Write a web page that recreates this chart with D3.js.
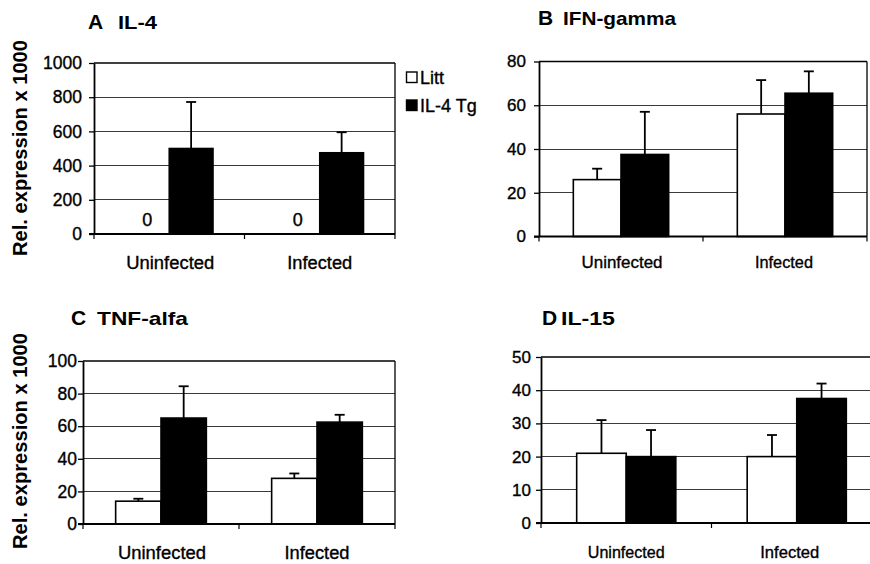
<!DOCTYPE html>
<html><head><meta charset="utf-8">
<script src="https://cdn.jsdelivr.net/npm/d3@7"></script>
<style>
body{margin:0;background:#fff}
svg{display:block}
text{font-family:"Liberation Sans",Arial,Helvetica,sans-serif;fill:#000}
text.reg{stroke:#000;stroke-width:0.35px}
</style>
</head><body>
<svg id="chart" width="870" height="564"></svg>
<script>
// ---------------- data ----------------
const categories = ["Uninfected", "Infected"];
const seriesNames = ["Litt", "IL-4 Tg"];

const il4Litt = [0, 0],     il4LittErr = [0, 0];
const il4Tg = [500, 475],   il4TgErr = [272, 120];

const ifnLitt = [26, 56],   ifnLittErr = [5, 15.5];
const ifnTg = [37.5, 65.5], ifnTgErr = [19.5, 10];

const tnfLitt = [14, 28],   tnfLittErr = [1.5, 3];
const tnfTg = [65, 62.5],   tnfTgErr = [19.5, 4.5];

const il15Litt = [21, 20],  il15LittErr = [10, 6.5];
const il15Tg = [20, 37.5],  il15TgErr = [8, 4.5];

const il4Ticks = [0, 200, 400, 600, 800, 1000];
const ifnTicks = [0, 20, 40, 60, 80];
const tnfTicks = [0, 20, 40, 60, 80, 100];
const il15Ticks = [0, 10, 20, 30, 40, 50];

const panelLetters = ["A", "B", "C", "D"];
const panelNames = ["IL-4", "IFN-gamma", "TNF-alfa", "IL-15"];
const yAxisLabel = "Rel. expression x 1000";
const zeroLabel = "0";

// ---------------- layout ----------------
const panels = [
  {letter: panelLetters[0], name: panelNames[0], litt: il4Litt, littErr: il4LittErr, tg: il4Tg, tgErr: il4TgErr, ticks: il4Ticks,
   x0: 94, x1: 395, yTop: 63, yBot: 234, tickFont: 17.5, tickPad: 7, catFont: 18, catY: 269, catW: [88, 65], catDx: [1, 0],
   titleX: 88, nameX: 118, titleY: 29, nameW: 39, yLabel: true, yLabelCY: 148, rightBorder: true, zeroLabels: true, legend: true},
  {letter: panelLetters[1], name: panelNames[1], litt: ifnLitt, littErr: ifnLittErr, tg: ifnTg, tgErr: ifnTgErr, ticks: ifnTicks,
   x0: 539, x1: 867, yTop: 61.5, yBot: 236.5, tickFont: 17, tickPad: 8, catFont: 17, catY: 268, catW: [81, 58], catDx: [1, -1],
   titleX: 538, nameX: 563, titleY: 25, nameW: 113, yLabel: false, rightBorder: true},
  {letter: panelLetters[2], name: panelNames[2], litt: tnfLitt, littErr: tnfLittErr, tg: tnfTg, tgErr: tnfTgErr, ticks: tnfTicks,
   x0: 83, x1: 395, yTop: 361, yBot: 524, tickFont: 17.5, tickPad: 1, catFont: 18, catY: 559, catW: [88, 65], catDx: [1, 0],
   titleX: 71, nameX: 97, titleY: 325, nameW: 91, yLabel: true, yLabelCY: 441, rightBorder: true},
  {letter: panelLetters[3], name: panelNames[3], litt: il15Litt, littErr: il15LittErr, tg: il15Tg, tgErr: il15TgErr, ticks: il15Ticks,
   x0: 541, x1: 882, yTop: 357, yBot: 523, tickFont: 17, tickPad: 5, catFont: 17, catY: 558, catW: [77, 59], catDx: [0, -7],
   titleX: 542, nameX: 561, titleY: 325, nameW: 54, yLabel: false, rightBorder: false}
];

const svg = d3.select("#chart");

panels.forEach(p => {
  const g = svg.append("g");
  const yMax = p.ticks[p.ticks.length - 1];
  const y = d3.scaleLinear().domain([0, yMax]).range([p.yBot, p.yTop]);
  const xCat = d3.scaleBand().domain(categories).range([p.x0, p.x1]).paddingInner(0).paddingOuter(0);
  const xSer = d3.scaleBand().domain(seriesNames).range([0, xCat.bandwidth()]).paddingInner(0).paddingOuter(0.72);

  const rows = [];
  categories.forEach((c, i) => {
    rows.push({cat: c, ser: seriesNames[0], v: p.litt[i], e: p.littErr[i]});
    rows.push({cat: c, ser: seriesNames[1], v: p.tg[i], e: p.tgErr[i]});
  });

  // gridlines
  g.append("g").selectAll("line").data(p.ticks.filter(t => t > 0 && t < yMax)).join("line")
    .attr("x1", p.x0).attr("x2", p.x1).attr("y1", d => y(d)).attr("y2", d => y(d))
    .attr("stroke", "#3a3a3a").attr("stroke-width", 1).attr("shape-rendering", "crispEdges");

  // bars
  g.append("g").selectAll("rect").data(rows).join("rect")
    .attr("x", d => xCat(d.cat) + xSer(d.ser))
    .attr("width", xSer.bandwidth())
    .attr("y", d => y(d.v))
    .attr("height", d => y(0) - y(d.v))
    .attr("fill", d => d.ser === seriesNames[0] ? "#fff" : "#000")
    .attr("stroke", "#000").attr("stroke-width", 1.6);

  // error bars (upper only)
  const eb = g.append("g").attr("stroke", "#000").attr("stroke-width", 1.8);
  rows.filter(d => d.e > 0).forEach(d => {
    const cx = xCat(d.cat) + xSer(d.ser) + xSer.bandwidth() / 2;
    eb.append("line").attr("x1", cx).attr("x2", cx).attr("y1", y(d.v)).attr("y2", y(d.v + d.e));
    eb.append("line").attr("x1", cx - 5).attr("x2", cx + 5).attr("y1", y(d.v + d.e)).attr("y2", y(d.v + d.e));
  });

  // zero value labels
  if (p.zeroLabels) {
    g.append("g").selectAll("text").data(rows.filter(d => d.ser === seriesNames[0])).join("text")
      .attr("class", "reg")
      .attr("x", d => xCat(d.cat) + xSer(d.ser) + xSer.bandwidth() / 2)
      .attr("y", y(0) - 8)
      .attr("text-anchor", "middle").attr("font-size", 18)
      .text(zeroLabel);
  }

  // frame: top + right
  g.append("line").attr("x1", p.x0).attr("x2", p.x1).attr("y1", y(yMax)).attr("y2", y(yMax))
    .attr("stroke", "#000").attr("stroke-width", 1.6);
  if (p.rightBorder) {
    g.append("line").attr("x1", p.x1).attr("x2", p.x1).attr("y1", y(yMax)).attr("y2", y(0))
      .attr("stroke", "#000").attr("stroke-width", 1.3);
  }

  // y axis
  const ya = g.append("g").attr("transform", `translate(${p.x0},0)`)
    .call(d3.axisLeft(y).tickValues(p.ticks).tickFormat(d3.format("d")).tickSize(5).tickSizeOuter(0).tickPadding(p.tickPad));
  ya.attr("font-family", null);
  ya.select(".domain").attr("stroke", "#000").attr("stroke-width", 1.8);
  ya.selectAll(".tick line").attr("stroke", "#000").attr("stroke-width", 1.3);
  ya.selectAll(".tick text").attr("class", "reg").attr("font-size", p.tickFont).attr("fill", "#000");

  // x axis
  g.append("line").attr("x1", p.x0 - 5).attr("x2", p.x1).attr("y1", y(0)).attr("y2", y(0))
    .attr("stroke", "#000").attr("stroke-width", 1.8);
  const bounds = categories.map(c => xCat(c)).concat([xCat.range()[1]]);
  g.append("g").selectAll("line").data(bounds).join("line")
    .attr("x1", d => d).attr("x2", d => d).attr("y1", y(0)).attr("y2", y(0) + 5)
    .attr("stroke", "#000").attr("stroke-width", 1.2);
  g.append("g").selectAll("text").data(categories).join("text")
    .attr("class", "reg")
    .attr("x", (d, i) => xCat(d) + xCat.bandwidth() / 2 + p.catDx[i])
    .attr("y", p.catY)
    .attr("text-anchor", "middle")
    .attr("font-size", p.catFont)
    .attr("textLength", (d, i) => p.catW[i])
    .attr("lengthAdjust", "spacingAndGlyphs")
    .text(d => d);

  // title
  g.append("text").attr("x", p.titleX).attr("y", p.titleY).attr("font-size", 21).attr("font-weight", "bold").text(p.letter);
  g.append("text").attr("x", p.nameX).attr("y", p.titleY).attr("font-size", 18.5).attr("font-weight", "bold")
    .attr("textLength", p.nameW).attr("lengthAdjust", "spacingAndGlyphs").text(p.name);

  // y label
  if (p.yLabel) {
    g.append("text").attr("transform", `translate(27,${p.yLabelCY}) rotate(-90)`)
      .attr("text-anchor", "middle").attr("font-size", 19.5).attr("font-weight", "bold")
      .attr("textLength", 216).attr("lengthAdjust", "spacingAndGlyphs")
      .text(yAxisLabel);
  }

  // legend
  if (p.legend) {
    const lg = g.append("g");
    seriesNames.forEach((s, i) => {
      lg.append("rect").attr("x", 406.5).attr("y", 72 + i * 28).attr("width", 10.5).attr("height", 10.5)
        .attr("fill", i === 0 ? "#fff" : "#000").attr("stroke", "#000").attr("stroke-width", 1.4);
      lg.append("text").attr("class", "reg").attr("x", 420).attr("y", 83.5 + i * 28).attr("font-size", 18).text(s);
    });
  }
});
</script>
</body></html>
